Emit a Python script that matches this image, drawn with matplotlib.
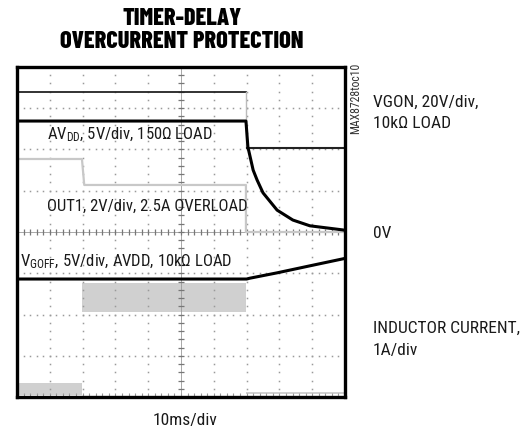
import numpy as np
import matplotlib
matplotlib.use("Agg")
import matplotlib.pyplot as plt
from matplotlib import font_manager

# scope traces, in divisions (x: 0..10, y: 0..8 from bottom)
vgon_x = [0.0, 6.98]
vgon_y = [7.39, 7.39]
vgon_drop_x = [6.98, 6.98]
vgon_drop_y = [7.39, 6.06]
vgon_after_x = [7.0, 10.0]
vgon_after_y = [6.04, 6.04]

avdd_x = [0.0, 6.98, 7.04, 7.20, 7.32, 7.50, 7.93, 8.41, 8.93, 9.94, 10.0]
avdd_y = [6.69, 6.69, 6.06, 5.50, 5.26, 4.95, 4.53, 4.29, 4.15, 4.05, 4.04]

out1_x = [0.0, 1.98, 2.05, 6.98, 6.98, 10.0]
out1_y = [5.77, 5.77, 5.14, 5.14, 4.0, 4.0]

vgoff_x = [0.0, 7.0, 7.10, 7.93, 8.93, 9.94, 10.0]
vgoff_y = [2.86, 2.86, 2.88, 3.01, 3.18, 3.35, 3.36]

# inductor current envelope (switching band)
il_x = [0.0, 1.98, 1.98, 6.98, 6.98, 10.0]
il_lo = [0.05, 0.05, 2.06, 2.06, 0.08, 0.08]
il_hi = [0.34, 0.34, 2.76, 2.76, 0.12, 0.12]


def pick(options):
    names = {f.name for f in font_manager.fontManager.ttflist}
    for o in options:
        if o in names:
            return o
    return "DejaVu Sans"


body_font = pick(["Liberation Sans Narrow", "Roboto Condensed", "Archivo Narrow", "Asap Condensed"])
title_font = pick(["Barlow Condensed", "Roboto Condensed", "Archivo Narrow"])
plt.rcParams["font.family"] = [body_font, "DejaVu Sans"]
plt.rcParams["mathtext.default"] = "regular"

W, H = 524, 430
fig = plt.figure(figsize=(W / 100, H / 100), dpi=100)
ax = fig.add_axes([17 / W, 1 - 397 / H, 328 / W, 330 / H])
ax.set_xlim(0, 10)
ax.set_ylim(0, 8)
ax.set_xticks([])
ax.set_yticks([])
for s in ax.spines.values():
    s.set_linewidth(2.4)
    s.set_color("black")

# dotted graticule
fine_y = np.arange(0, 8.01, 0.2)
fine_x = np.arange(0, 10.01, 0.2)
for i in range(1, 10):
    if i != 5:
        ax.plot(np.full_like(fine_y, i), fine_y, ls="none", marker="s", ms=1.1, color="#9a9a9a", mew=0)
for j in range(1, 8):
    if j != 4:
        ax.plot(fine_x, np.full_like(fine_x, j), ls="none", marker="s", ms=1.1, color="#9a9a9a", mew=0)
ax.plot([5, 5], [0, 8], color="#9a9a9a", lw=0.6)
ax.plot([0, 10], [4, 4], color="#9a9a9a", lw=0.6)
ax.plot(np.full_like(fine_y, 5), fine_y, ls="none", marker="_", ms=4, color="#777777", mew=0.9)
ax.plot(fine_x, np.full_like(fine_x, 4), ls="none", marker="|", ms=4, color="#777777", mew=0.9)
ax.plot(fine_x, np.full_like(fine_x, 0.06), ls="none", marker="|", ms=3, color="#999999", mew=0.8)

# traces
ax.fill_between(il_x, il_lo, il_hi, color="#d0d0d0", lw=0)
ax.plot(out1_x, out1_y, color="#c8c8c8", lw=1.6)
ax.plot(vgon_x, vgon_y, color="#222222", lw=1.3)
ax.plot(vgon_drop_x, vgon_drop_y, color="#bbbbbb", lw=1.0)
ax.plot(vgon_after_x, vgon_after_y, color="#222222", lw=1.5)
ax.plot(avdd_x, avdd_y, color="black", lw=2.2)
ax.plot(vgoff_x, vgoff_y, color="black", lw=2.2)


def px(x, y):
    return x / W, 1 - y / H


lab = dict(fontsize=12, color="#1a1a1a")
side = dict(fontsize=12.5, color="#1a1a1a")
ttl = dict(ha="center", va="center", fontsize=17.5, fontweight=800, family=[title_font, "DejaVu Sans"])
fig.text(*px(182, 19), "TIMER-DELAY", **ttl)
fig.text(*px(182, 42), "OVERCURRENT PROTECTION", **ttl)

fig.text(*px(47, 135), "AV$_{DD}$, 5V/div, 150Ω LOAD", ha="left", va="center", **lab)
fig.text(*px(47, 206), "OUT1, 2V/div, 2.5A OVERLOAD", ha="left", va="center", **lab)
fig.text(*px(20, 262), "V$_{GOFF}$, 5V/div, AVDD, 10kΩ LOAD", ha="left", va="center", **lab)

fig.text(*px(373, 102), "VGON, 20V/div,", ha="left", va="center", **side)
fig.text(*px(373, 124), "10kΩ LOAD", ha="left", va="center", **side)
fig.text(*px(373, 233), "0V", ha="left", va="center", **side)
fig.text(*px(373, 328), "INDUCTOR CURRENT,", ha="left", va="center", **side)
fig.text(*px(373, 350), "1A/div", ha="left", va="center", **side)
fig.text(*px(185, 420), "10ms/div", ha="center", va="center", **side)
fig.text(*px(356, 98), "MAX8728toc10", ha="center", va="center", rotation=90, fontsize=8.5, color="#333333")

fig.savefig("out.png", dpi=100)
